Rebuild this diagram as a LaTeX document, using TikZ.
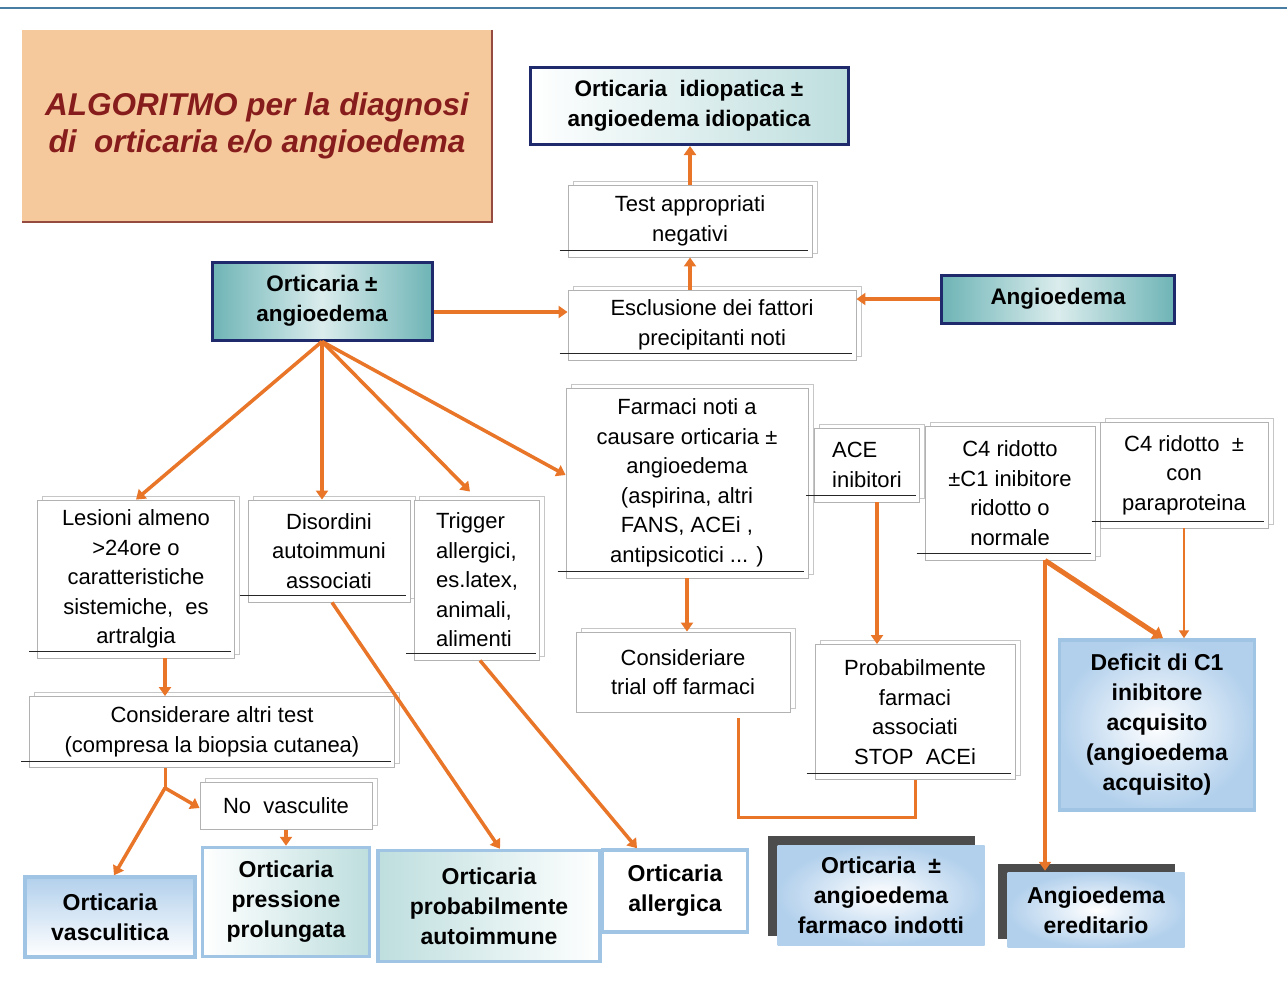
\documentclass[tikz,border=0pt]{standalone}
\usepackage{fontspec}
\setmainfont{Liberation Sans}
\usetikzlibrary{arrows.meta,shadows}
\definecolor{orangeA}{RGB}{232,117,40}
\definecolor{navy}{RGB}{30,42,108}
\definecolor{peach}{RGB}{246,201,156}
\definecolor{titlered}{RGB}{135,28,28}
\definecolor{edgered}{RGB}{150,75,65}
\definecolor{topblue}{RGB}{70,125,160}
\definecolor{tealA}{RGB}{110,180,182}
\definecolor{tealL}{RGB}{190,222,222}
\definecolor{lblue}{RGB}{160,196,228}
\definecolor{lblueF}{RGB}{178,208,236}
\newcommand{\ulbox}[1]{\draw[gray!30!black, line width=0.8pt] ([xshift=-8pt,yshift=7pt]#1.south west) -- ([xshift=-4pt,yshift=7pt]#1.south east);}
\begin{document}
\begin{tikzpicture}[x=1pt,y=-1pt,
  pbox/.style={draw=gray!60, line width=0.9pt, fill=white, align=center, inner sep=2pt,
     font=\fontsize{22}{29.5}\selectfont,
     copy shadow={shadow xshift=5pt, shadow yshift=4pt, draw=gray!45, fill=white, line width=0.9pt}},
  nbox/.style={draw=navy, line width=3pt, align=center, inner sep=2pt,
     font=\bfseries\fontsize{22.5}{30}\selectfont},
  rbox/.style={draw=lblue, line width=3.5pt, align=center, inner sep=2pt,
     font=\bfseries\fontsize{23}{30}\selectfont},
  gshadow/.style={copy shadow={shadow xshift=-10pt, shadow yshift=9pt, fill=gray!60!black, draw=none}},
  arr/.style={draw=orangeA, line width=3.5pt, -{Triangle[width=12pt,length=9pt]}},
  arrT/.style={draw=orangeA, line width=5pt, -{Triangle[width=14pt,length=10pt]}},
  arrt/.style={draw=orangeA, line width=2.5pt, -{Triangle[width=10pt,length=8pt]}},
  ln/.style={draw=orangeA, line width=3pt}
]
\useasboundingbox (0,0) rectangle (1287,983);
\fill[white] (0,0) rectangle (1287,983);
\draw[topblue, line width=1.5pt] (0,8) -- (1287,8);

% title
\node[fill=peach, minimum width=470pt, minimum height=192pt, inner sep=0pt, align=center,
      text=titlered, font=\bfseries\itshape\fontsize{31.5}{37}\selectfont] (title) at (257,126)
      {ALGORITMO per la diagnosi\\di\ \ orticaria e/o angioedema};
\draw[edgered, line width=2.5pt] (title.north east) -- (title.south east) -- (title.south west);

% navy boxes
\node[nbox, left color=white, right color=tealL, minimum width=318pt, minimum height=77pt] (idio) at (689,106)
  {Orticaria\ \ idiopatica ±\\angioedema idiopatica};
\node[nbox, left color=tealA, right color=tealA, middle color=white!75!tealA, minimum width=220pt, minimum height=78pt] (ort) at (322,301)
  {Orticaria ±\\angioedema};
\node[nbox, left color=tealA, right color=tealA, middle color=white!75!tealA, minimum width=233pt, minimum height=48pt] (angio) at (1058,299)
  {Angioedema};

% plain boxes
\node[pbox, minimum width=244pt, minimum height=72pt] (test) at (690,221) {Test appropriati\\negativi};
\node[pbox, minimum width=288pt, minimum height=70pt] (escl) at (712,325) {Esclusione dei fattori\\precipitanti noti};
\node[pbox, minimum width=197pt, minimum height=158pt] (lesioni) at (136,579)
  {Lesioni almeno\\>24ore o\\caratteristiche\\sistemiche,\ \ es\\artralgia};
\node[pbox, minimum width=162pt, minimum height=102pt] (disord) at (329,551)
  {Disordini\\autoimmuni\\associati};
\node[pbox, align=left, minimum width=125pt, minimum height=160pt] (trigger) at (477,580)
  {Trigger\\allergici,\\es.latex,\\animali,\\alimenti};
\node[pbox, minimum width=242pt, minimum height=190pt] (farmaci) at (687,483)
  {Farmaci noti a\\causare orticaria ±\\angioedema\\(aspirina, altri\\FANS, ACEi ,\\antipsicotici ... )};
\node[pbox, align=left, minimum width=105pt, minimum height=74pt] (ace) at (867,465) {ACE\\inibitori};
\node[pbox, minimum width=170pt, minimum height=134pt] (c4a) at (1010,493)
  {C4 ridotto\\±C1 inibitore\\ridotto o\\normale};
\node[pbox, minimum width=168pt, minimum height=106pt] (c4b) at (1184,475)
  {C4 ridotto\ \ ±\\con\\paraproteina};
\node[pbox, minimum width=214pt, minimum height=80pt] (consid) at (683,672)
  {Consideriare\\trial off farmaci};
\node[pbox, minimum width=200pt, minimum height=135pt] (prob) at (915,712)
  {Probabilmente\\farmaci\\associati\\STOP\ \ ACEi};
\node[pbox, minimum width=365pt, minimum height=71pt] (altri) at (212,732)
  {Considerare altri test\\(compresa la biopsia cutanea)};
\node[pbox, minimum width=172pt, minimum height=47pt] (novasc) at (286,806) {No\ \ vasculite};

\foreach \n in {test,escl,lesioni,disord,trigger,farmaci,ace,c4a,c4b,prob,altri} {\ulbox{\n}}

% result boxes
\node[rbox, inner color=white, outer color=lblueF, minimum width=195pt, minimum height=170pt] (deficit) at (1157,725)
  {Deficit di C1\\inibitore\\acquisito\\(angioedema\\acquisito)};
\node[rbox, top color=lblueF, bottom color=white, minimum width=170pt, minimum height=80pt] (ovasc) at (110,917)
  {Orticaria\\vasculitica};
\node[rbox, left color=white, right color=tealL, minimum width=167pt, minimum height=109pt] (opress) at (286,902)
  {Orticaria\\pressione\\prolungata};
\node[rbox, left color=tealL, right color=white, minimum width=222pt, minimum height=111pt] (oauto) at (489,906)
  {Orticaria\\probabilmente\\autoimmune};
\node[rbox, fill=white, minimum width=145pt, minimum height=82pt] (oall) at (675,891)
  {Orticaria\\allergica};
\node[rbox, gshadow, draw=none, inner color=white, outer color=lblueF, minimum width=207pt, minimum height=100pt] (ofarm) at (881,895)
  {Orticaria\ \ ±\\angioedema\\farmaco indotti};
\node[rbox, gshadow, draw=none, inner color=white, outer color=lblueF, minimum width=177pt, minimum height=75pt] (oered) at (1096,910)
  {Angioedema\\ereditario};

% connectors
\draw[arr] (ort.south) -- (lesioni.north);
\draw[arr] (ort.south) -- (ort.south |- disord.north);
\draw[arr] (ort.south) -- ([xshift=-7pt,yshift=8pt]trigger.north);
\draw[arr] (ort.south) -- ([yshift=8pt]farmaci.west);
\draw[arr] (ort.east |- 0,312) -- (escl.west |- 0,312);
\draw[arr] (angio.west) -- (escl.east |- angio.west);
\draw[arr] (test.south |- escl.north) -- (test.south);
\draw[arr] (test.north) -- (test.north |- idio.south);
\draw[arr] ([xshift=29pt]lesioni.south) -- ([xshift=29pt]lesioni.south |- altri.north);
\coordinate (jn) at ([xshift=-47pt,yshift=-20pt]altri.south);
\draw[ln] ([xshift=-47pt]altri.south) -- (jn);
\draw[arr] (jn) -- ([xshift=4pt]ovasc.north);
\draw[arr] (jn) -- ([yshift=-2pt]novasc.west);
\draw[arr] (novasc.south) -- (opress.north);
\draw[arr] ([xshift=3pt]disord.south) -- ([xshift=11pt]oauto.north);
\draw[arr] ([xshift=3pt]trigger.south) -- ([xshift=-38pt]oall.north);
\draw[arr] (farmaci.south) -- (farmaci.south |- consid.north);
\draw[arr] ([xshift=10pt]ace.south) -- ([xshift=10pt]ace.south |- prob.north);
\draw[ln] ([xshift=55pt,yshift=-6pt]consid.south) |- ([yshift=-38pt]prob.south) -- (prob.south);
\coordinate (c4out) at ([xshift=35pt]c4a.south);
\draw[arrT] (c4out) -- ([xshift=6pt]deficit.north);
\draw[arr] (c4out) -- (c4out |- oered.north);
\draw[arrt] (c4b.south) -- (c4b.south |- deficit.north);
\end{tikzpicture}
\end{document}
